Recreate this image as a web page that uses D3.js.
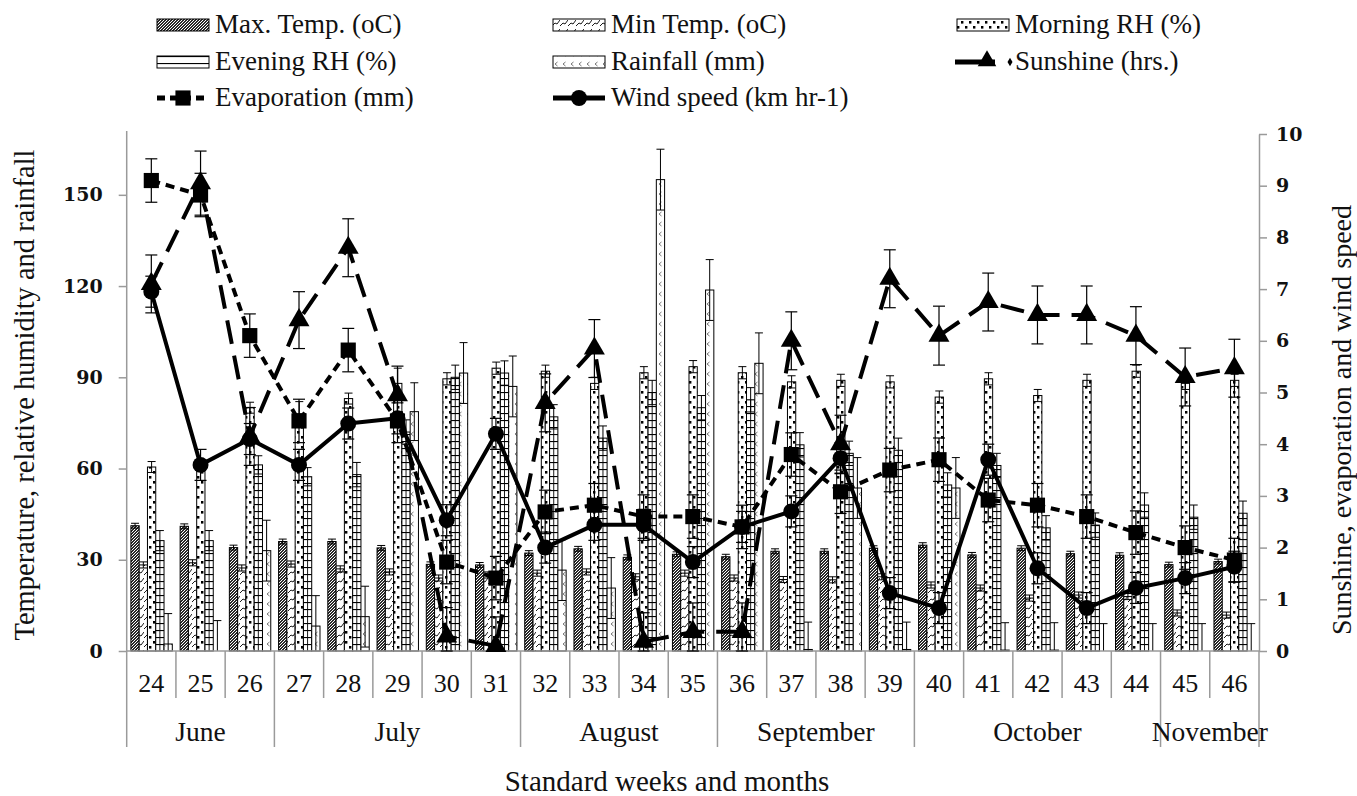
<!DOCTYPE html>
<html lang="en">
<head>
<meta charset="UTF-8">
<title>Weather parameters by standard week</title>
<script src="https://d3js.org/d3.v7.min.js"></script>
<style>
  body { margin: 0; background: #fff; }
  text { font-family: "Liberation Serif", "Times New Roman", serif; fill: #111; }
  .tick text { font-family: "DejaVu Serif", serif; font-weight: bold; font-size: 19px; }
</style>
</head>
<body>
<script>
  // ---- data ----
  const weeks = [24, 25, 26, 27, 28, 29, 30, 31, 32, 33, 34, 35, 36, 37, 38, 39, 40, 41, 42, 43, 44, 45, 46];
  const monthNames = ["June", "July", "August", "September", "October", "November"];
  const monthFirst = [24, 27, 32, 36, 40, 45];
  const monthLast = [26, 31, 35, 39, 44, 46];

  const maxTemp = [41.2, 41.0, 34.0, 36.0, 36.0, 33.9, 28.5, 28.3, 32.2, 33.6, 30.8, 31.8, 31.0, 32.8, 32.8, 33.8, 34.8, 31.6, 33.8, 32.0, 31.5, 28.4, 29.4];
  const minTemp = [28.3, 29.0, 27.3, 28.6, 27.0, 26.0, 24.0, 25.0, 25.6, 26.0, 24.4, 25.6, 24.0, 23.5, 23.4, 24.4, 21.7, 20.7, 17.4, 18.4, 17.9, 12.5, 11.8];
  const morningRH = [60.5, 61.0, 80.0, 78.0, 83.0, 88.0, 89.5, 93.0, 92.0, 88.0, 91.5, 93.5, 91.5, 88.5, 89.0, 88.5, 83.5, 89.5, 84.0, 89.0, 92.0, 88.0, 89.0];
  const eveningRH = [36.3, 36.3, 61.2, 57.3, 58.0, 72.0, 90.0, 91.4, 77.0, 70.0, 85.0, 80.0, 82.6, 67.8, 65.0, 66.0, 54.6, 61.0, 40.5, 41.4, 48.0, 44.0, 45.3];
  const rainfall = [2.3, 0, 33.0, 8.2, 11.3, 78.7, 91.4, 87.0, 26.6, 20.7, 155.0, 118.7, 94.6, 0.5, 53.6, 0.5, 53.6, 0.3, 0.3, 0, 0, 0, 0];

  const maxTempErr = [0.8, 0.8, 0.8, 0.8, 0.8, 0.8, 0.8, 0.8, 0.8, 0.8, 0.8, 0.8, 0.8, 0.8, 0.8, 0.8, 0.8, 0.8, 0.8, 0.8, 0.8, 0.8, 0.8];
  const minTempErr = [1, 1, 1, 1, 1, 1, 1, 1, 1, 1, 1, 1, 1, 1, 1, 1, 1, 1, 1, 1, 1, 1, 1];
  const morningErr = [1.8, 2, 1.8, 4, 1.8, 5, 2, 2, 2, 2, 2, 2, 2, 2, 2, 2, 2, 2, 2, 2, 2, 2, 2];
  const eveningErr = [3.3, 3.3, 3, 3, 4, 4, 4, 4, 4, 4, 4, 4, 4, 4, 4, 4, 4, 4, 4, 4, 4, 4, 4];
  const rainErr = [10, 10, 10, 10, 10, 9.5, 10, 10, 10, 10, 10, 10, 10, 9, 10, 9, 10, 9, 9, 9, 9, 9, 9];

  const evaporation = [9.1, 8.82, 6.1, 4.45, 5.82, 4.45, 1.72, 1.41, 2.69, 2.82, 2.6, 2.6, 2.4, 3.8, 3.08, 3.5, 3.7, 2.92, 2.82, 2.6, 2.29, 2.0, 1.76];
  const sunshine = [7.1, 9.05, 4.15, 6.4, 7.8, 4.95, 0.28, 0.1, 4.8, 5.85, 0.18, 0.37, 0.37, 6.0, 4.0, 7.2, 6.1, 6.75, 6.5, 6.5, 6.1, 5.3, 5.47];
  const windSpeed = [6.95, 3.6, 4.1, 3.6, 4.4, 4.5, 2.53, 4.2, 2.0, 2.44, 2.44, 1.72, 2.4, 2.7, 3.73, 1.12, 0.83, 3.7, 1.6, 0.83, 1.22, 1.41, 1.63];
  const evapErr = [0.42, 0.42, 0.42, 0.42, 0.42, 0.42, 0.42, 0.42, 0.42, 0.42, 0.42, 0.42, 0.42, 0.42, 0.42, 0.42, 0.42, 0.42, 0.42, 0.42, 0.42, 0.42, 0.42];
  const sunErr = [0.56, 0.62, 0.56, 0.55, 0.56, 0.56, 0.56, 0.56, 0.56, 0.56, 0.56, 0.56, 0.56, 0.56, 0.56, 0.56, 0.57, 0.56, 0.56, 0.56, 0.56, 0.56, 0.56];
  const windErr = [0.3, 0.3, 0.3, 0.3, 0.3, 0.3, 0.3, 0.3, 0.3, 0.3, 0.3, 0.3, 0.3, 0.3, 0.3, 0.3, 0.3, 0.3, 0.3, 0.3, 0.3, 0.3, 0.3];

  const leftTicks = [0, 30, 60, 90, 120, 150];
  const rightTicks = [0, 1, 2, 3, 4, 5, 6, 7, 8, 9, 10];

  // ---- layout ----
  const width = 1357, height = 796;
  const plotL = 126.7, plotR = 1259, plotT = 134, plotB = 651;
  const axisGrey = "#9a9a9a";

  const svg = d3.select("body").append("svg")
    .attr("width", width)
    .attr("height", height);

  const defs = svg.append("defs");

  // bar fill patterns
  const pMax = defs.append("pattern").attr("id", "pMax").attr("patternUnits", "userSpaceOnUse")
    .attr("width", 3).attr("height", 3);
  pMax.append("rect").attr("width", 3).attr("height", 3).attr("fill", "#2a2a2a");
  [0, 1, 2].forEach(k => {
    pMax.append("rect").attr("x", k).attr("y", (k * 2) % 3).attr("width", 1).attr("height", 1).attr("fill", "#fff");
  });

  const pMin = defs.append("pattern").attr("id", "pMin").attr("patternUnits", "userSpaceOnUse")
    .attr("width", 8).attr("height", 9);
  pMin.append("rect").attr("width", 8).attr("height", 9).attr("fill", "#fff");
  pMin.append("path").attr("d", "M0,8 L3,5 L5,6 L8,2").attr("fill", "none")
    .attr("stroke", "#000").attr("stroke-width", 0.9);

  const pMorn = defs.append("pattern").attr("id", "pMorn").attr("patternUnits", "userSpaceOnUse")
    .attr("width", 8).attr("height", 10);
  pMorn.append("rect").attr("width", 8).attr("height", 10).attr("fill", "#fff");
  pMorn.append("rect").attr("x", 1).attr("y", 1).attr("width", 2.4).attr("height", 2.6).attr("fill", "#000");
  pMorn.append("rect").attr("x", 5).attr("y", 6).attr("width", 2.4).attr("height", 2.6).attr("fill", "#000");

  const pEve = defs.append("pattern").attr("id", "pEve").attr("patternUnits", "userSpaceOnUse")
    .attr("width", 8).attr("height", 7);
  pEve.append("rect").attr("width", 8).attr("height", 7).attr("fill", "#fff");
  pEve.append("rect").attr("y", 0).attr("width", 8).attr("height", 1.1).attr("fill", "#000");

  const pRain = defs.append("pattern").attr("id", "pRain").attr("patternUnits", "userSpaceOnUse")
    .attr("width", 8).attr("height", 10);
  pRain.append("rect").attr("width", 8).attr("height", 10).attr("fill", "#fff");
  pRain.append("path").attr("d", "M5.5,2 L3,4 L5.5,6").attr("fill", "none")
    .attr("stroke", "#666").attr("stroke-width", 0.9);

  const barSeries = [
    { key: "max", name: "Max. Temp. (oC)", values: maxTemp, err: maxTempErr, fill: "url(#pMax)" },
    { key: "min", name: "Min Temp. (oC)", values: minTemp, err: minTempErr, fill: "url(#pMin)" },
    { key: "morn", name: "Morning RH (%)", values: morningRH, err: morningErr, fill: "url(#pMorn)" },
    { key: "eve", name: "Evening RH (%)", values: eveningRH, err: eveningErr, fill: "url(#pEve)" },
    { key: "rain", name: "Rainfall (mm)", values: rainfall, err: rainErr, fill: "url(#pRain)" }
  ];

  const lineSeries = [
    { key: "sun", name: "Sunshine (hrs.)", values: sunshine, err: sunErr, dash: "24,12", marker: d3.symbolTriangle, size: 190 },
    { key: "evap", name: "Evaporation (mm)", values: evaporation, err: evapErr, dash: "9,6", marker: d3.symbolSquare, size: 230 },
    { key: "wind", name: "Wind speed (km hr-1)", values: windSpeed, err: windErr, dash: null, marker: d3.symbolCircle, size: 200 }
  ];

  // ---- scales ----
  const x = d3.scaleBand().domain(weeks).range([plotL, plotR]).padding(0);
  const xs = d3.scaleBand().domain(barSeries.map(d => d.key)).range([4.2, 45.6]).padding(0);
  const yL = d3.scaleLinear().domain([0, 170]).range([plotB, plotT]);
  const yR = d3.scaleLinear().domain([0, 10]).range([plotB, plotT]);

  // ---- bars ----
  const barG = svg.append("g");
  barSeries.forEach(s => {
    const rows = weeks.map((w, i) => ({ w, v: s.values[i], e: s.err[i] }));
    const g = barG.append("g").attr("class", "bars-" + s.key);
    g.selectAll("rect").data(rows).join("rect")
      .attr("x", d => x(d.w) + xs(s.key))
      .attr("y", d => yL(d.v))
      .attr("width", xs.bandwidth())
      .attr("height", d => yL(0) - yL(d.v))
      .attr("fill", s.fill)
      .attr("stroke", "#000")
      .attr("stroke-width", 1);

    if (s.key === "eve") {
      g.selectAll("line.mid").data(rows).join("line").attr("class", "mid")
        .attr("x1", d => x(d.w) + xs(s.key) + xs.bandwidth() / 2)
        .attr("x2", d => x(d.w) + xs(s.key) + xs.bandwidth() / 2)
        .attr("y1", d => yL(d.v))
        .attr("y2", yL(0))
        .attr("stroke", "#000").attr("stroke-width", 0.9);
    }

    // error bars
    const eg = g.append("g");
    const cx = d => x(d.w) + xs(s.key) + xs.bandwidth() / 2;
    eg.selectAll("line.v").data(rows).join("line").attr("class", "v")
      .attr("x1", cx).attr("x2", cx)
      .attr("y1", d => yL(Math.max(0, d.v - d.e)))
      .attr("y2", d => yL(d.v + d.e))
      .attr("stroke", "#000").attr("stroke-width", 1);
    eg.selectAll("line.t").data(rows).join("line").attr("class", "t")
      .attr("x1", d => cx(d) - 4).attr("x2", d => cx(d) + 4)
      .attr("y1", d => yL(d.v + d.e)).attr("y2", d => yL(d.v + d.e))
      .attr("stroke", "#000").attr("stroke-width", 1);
    eg.selectAll("line.b").data(rows.filter(d => d.v - d.e > 0)).join("line").attr("class", "b")
      .attr("x1", d => cx(d) - 4).attr("x2", d => cx(d) + 4)
      .attr("y1", d => yL(d.v - d.e)).attr("y2", d => yL(d.v - d.e))
      .attr("stroke", "#000").attr("stroke-width", 1);
  });

  // ---- axes ----
  const axL = svg.append("g").attr("transform", `translate(${plotL},0)`)
    .call(d3.axisLeft(yL).tickValues(leftTicks).tickSize(8).tickSizeOuter(0).tickPadding(16));
  const axR = svg.append("g").attr("transform", `translate(${plotR},0)`)
    .call(d3.axisRight(yR).tickValues(rightTicks).tickSize(8).tickSizeOuter(0).tickPadding(9));
  [axL, axR].forEach(a => {
    a.select(".domain").attr("stroke", axisGrey).attr("stroke-width", 1.5);
    a.selectAll(".tick line").attr("stroke", axisGrey).attr("stroke-width", 1.5);
    a.selectAll(".tick text").attr("fill", "#111");
  });
  axL.select(".domain").attr("d", `M0,${plotB}V${plotT - 3}`);

  // category axis with week and month rows
  const catG = svg.append("g");
  catG.append("line")
    .attr("x1", plotL).attr("x2", plotR).attr("y1", plotB).attr("y2", plotB)
    .attr("stroke", axisGrey).attr("stroke-width", 1.5);

  weeks.slice(1).forEach(w => {
    const isMonth = monthFirst.includes(w);
    catG.append("line")
      .attr("x1", x(w)).attr("x2", x(w))
      .attr("y1", plotB).attr("y2", isMonth ? 747 : 698)
      .attr("stroke", axisGrey).attr("stroke-width", 1.5);
  });
  [plotL, plotR].forEach(px => {
    catG.append("line")
      .attr("x1", px).attr("x2", px).attr("y1", plotB).attr("y2", 747)
      .attr("stroke", axisGrey).attr("stroke-width", 1.5);
  });

  catG.selectAll("text.week").data(weeks).join("text").attr("class", "week")
    .attr("x", d => x(d) + x.bandwidth() / 2)
    .attr("y", 692)
    .attr("text-anchor", "middle")
    .attr("font-size", 26)
    .text(d => d);

  catG.selectAll("text.month").data(monthNames).join("text").attr("class", "month")
    .attr("x", (d, i) => (x(monthFirst[i]) + x(monthLast[i]) + x.bandwidth()) / 2)
    .attr("y", 741)
    .attr("text-anchor", "middle")
    .attr("font-size", 27.5)
    .text(d => d);

  svg.append("text")
    .attr("x", 667).attr("y", 791)
    .attr("text-anchor", "middle").attr("font-size", 29)
    .text("Standard weeks and months");

  svg.append("text")
    .attr("transform", `translate(34,${395}) rotate(-90)`)
    .attr("text-anchor", "middle").attr("font-size", 28.5)
    .text("Temperature, relative humidity and rainfall");

  svg.append("text")
    .attr("transform", `translate(1351,${420}) rotate(-90)`)
    .attr("text-anchor", "middle").attr("font-size", 28)
    .text("Sunshine, evaporation and wind speed");

  // ---- lines ----
  const lineG = svg.append("g");
  const cxW = w => x(w) + x.bandwidth() / 2;
  lineSeries.forEach(s => {
    const rows = weeks.map((w, i) => ({ w, v: s.values[i], e: s.err[i] }));
    const g = lineG.append("g").attr("class", "line-" + s.key);

    const eg = g.append("g");
    eg.selectAll("line.v").data(rows).join("line").attr("class", "v")
      .attr("x1", d => cxW(d.w)).attr("x2", d => cxW(d.w))
      .attr("y1", d => yR(Math.max(0, d.v - d.e))).attr("y2", d => yR(d.v + d.e))
      .attr("stroke", "#000").attr("stroke-width", 1.2);
    ["t", "b"].forEach(k => {
      eg.selectAll("line." + k).data(rows).join("line").attr("class", k)
        .attr("x1", d => cxW(d.w) - 6).attr("x2", d => cxW(d.w) + 6)
        .attr("y1", d => yR(k === "t" ? d.v + d.e : Math.max(0, d.v - d.e)))
        .attr("y2", d => yR(k === "t" ? d.v + d.e : Math.max(0, d.v - d.e)))
        .attr("stroke", "#000").attr("stroke-width", 1.2);
    });

    g.append("path").datum(rows)
      .attr("d", d3.line().x(d => cxW(d.w)).y(d => yR(d.v)))
      .attr("fill", "none")
      .attr("stroke", "#000")
      .attr("stroke-width", 4)
      .attr("stroke-dasharray", s.dash)
      .attr("stroke-linejoin", "round");

    g.selectAll("path.mk").data(rows).join("path").attr("class", "mk")
      .attr("transform", d => `translate(${cxW(d.w)},${yR(d.v)})`)
      .attr("d", d3.symbol().type(s.marker).size(s.size))
      .attr("fill", "#000");
  });

  // ---- legend ----
  const legCols = [157, 553, 957];
  const legRows = [25, 62, 98];
  const legItems = [
    { type: "bar", s: barSeries[0], col: 0, row: 0 },
    { type: "bar", s: barSeries[1], col: 1, row: 0 },
    { type: "bar", s: barSeries[2], col: 2, row: 0 },
    { type: "bar", s: barSeries[3], col: 0, row: 1 },
    { type: "bar", s: barSeries[4], col: 1, row: 1 },
    { type: "line", s: lineSeries[0], col: 2, row: 1 },
    { type: "line", s: lineSeries[1], col: 0, row: 2 },
    { type: "line", s: lineSeries[2], col: 1, row: 2 }
  ];
  const legG = svg.append("g");
  legItems.forEach(it => {
    const lx = legCols[it.col], ly = legRows[it.row];
    const g = legG.append("g");
    if (it.type === "bar") {
      g.append("rect").attr("x", lx).attr("y", ly - 6).attr("width", 52).attr("height", 12)
        .attr("fill", it.s.fill).attr("stroke", "#000").attr("stroke-width", 1);
    } else if (it.s.key === "sun") {
      g.append("line").attr("x1", lx - 2).attr("x2", lx + 38).attr("y1", ly).attr("y2", ly)
        .attr("stroke", "#000").attr("stroke-width", 5);
      g.append("path").attr("transform", `translate(${lx + 30},${ly - 1})`)
        .attr("d", d3.symbol().type(d3.symbolTriangle).size(150)).attr("fill", "#000");
      g.append("path").attr("transform", `translate(${lx + 53},${ly})`)
        .attr("d", d3.symbol().type(d3.symbolDiamond).size(22)).attr("fill", "#000");
    } else {
      g.append("line").attr("x1", lx).attr("x2", lx + 52).attr("y1", ly).attr("y2", ly)
        .attr("stroke", "#000").attr("stroke-width", 5)
        .attr("stroke-dasharray", it.s.dash ? "8,5,0,0" : null);
      g.append("path").attr("transform", `translate(${lx + 26},${ly})`)
        .attr("d", d3.symbol().type(it.s.marker).size(it.s.size)).attr("fill", "#000");
    }
    g.append("text").attr("x", lx + 58).attr("y", ly + 8)
      .attr("font-size", 27).text(it.s.name);
  });
</script>
</body>
</html>
